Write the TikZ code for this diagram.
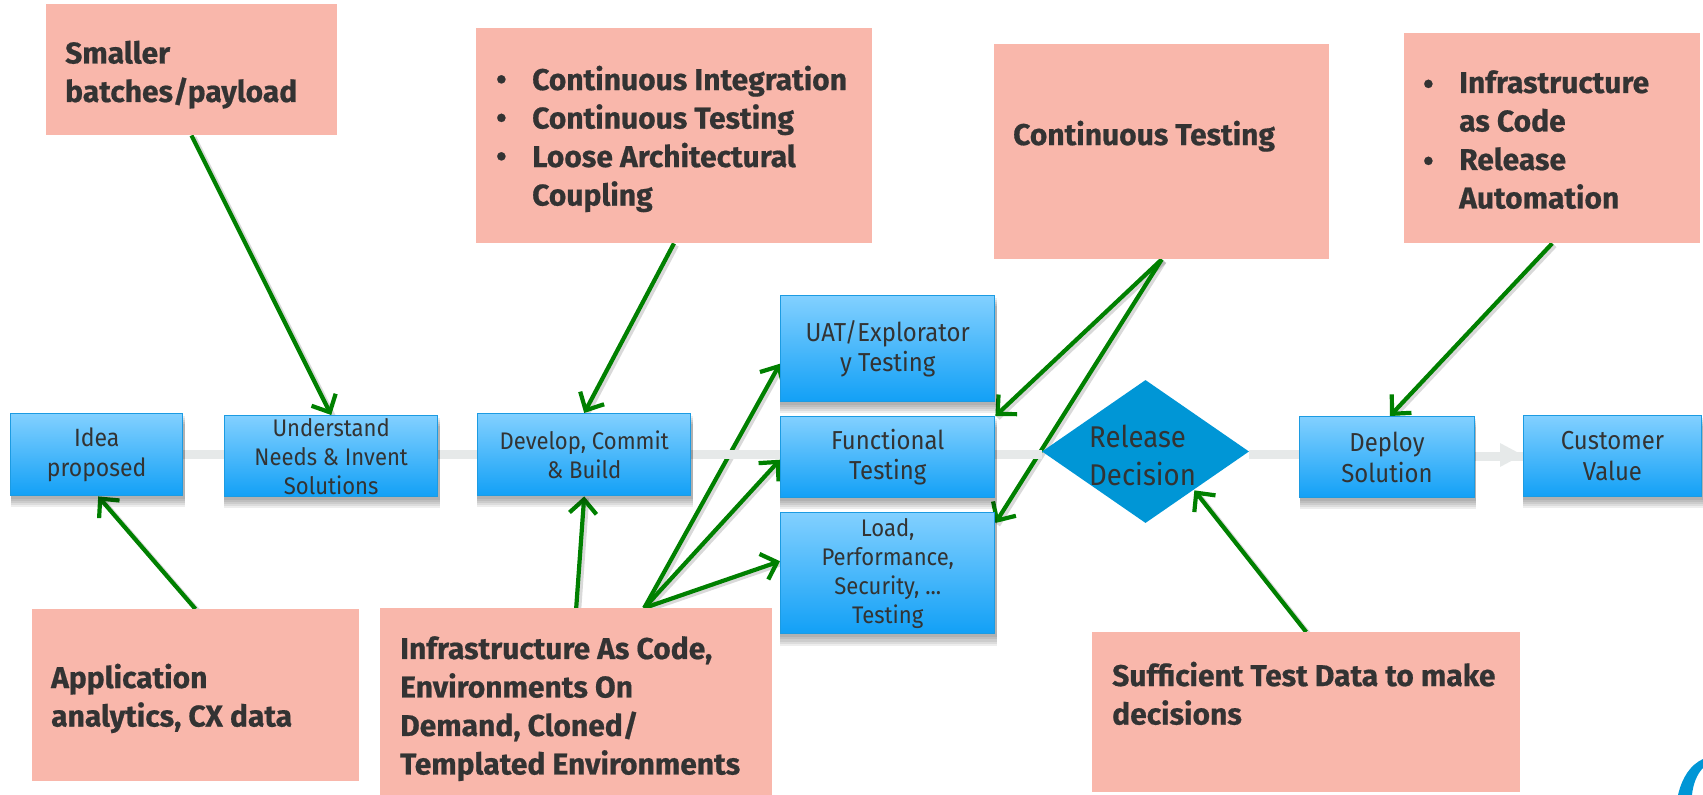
\documentclass[tikz,border=0pt]{standalone}
\usepackage{fontspec}
\setmainfont{Fira Sans}[FakeStretch=0.92,BoldFeatures={FakeStretch=1.0,FakeBold=0.6}]
\usetikzlibrary{arrows.meta,shadows,shapes.geometric,positioning,calc}
\pgfdeclarelayer{conn}\pgfdeclarelayer{band}
\pgfsetlayers{conn,band,main}
\definecolor{peach}{HTML}{F9B7AB}
\definecolor{boxtop}{HTML}{82D0FF}
\definecolor{boxbot}{HTML}{12A0F6}
\definecolor{boxline}{HTML}{1C9BE2}
\definecolor{dia}{HTML}{0096D6}
\definecolor{arrowgreen}{HTML}{008000}
\definecolor{ink}{HTML}{333333}
\definecolor{bandc}{HTML}{E6E9E9}
\newcommand{\fs}[2]{\fontsize{#1}{#2}\selectfont}
\tikzset{
 x=1pt,y=-1pt,
 softshadow/.style={shadow scale=1.012,shadow xshift=1pt,shadow yshift=-#1pt,opacity=.07,fill=black},
 stage/.style={draw=boxline,line width=1.4pt,top color=boxtop,bottom color=boxbot,inner sep=0pt,
  text=ink,align=center,font=\fs{24}{29},anchor=north west,
  drop shadow={softshadow=11},drop shadow={softshadow=9},drop shadow={softshadow=7},
  drop shadow={softshadow=5},drop shadow={softshadow=3}},
 bigstage/.style={font=\fs{26}{30.5}},
 note/.style={fill=peach,inner sep=0pt,anchor=north west,text=ink},
 notetext/.style={anchor=north west,inner sep=0pt,text=ink,align=left,font=\bfseries\fs{30}{38.5}},
 bullet/.style={anchor=north west,inner sep=0pt,text=ink,font=\bfseries\fs{30}{38.5}},
 link/.style={draw=arrowgreen,line width=4.2pt,-{Straight Barb[length=14pt,width=27pt,line width=4.2pt]},
  preaction={draw=black,draw opacity=.15,line width=5pt,-,transform canvas={xshift=2.5pt,yshift=-2pt}}},
 flow/.style={draw=bandc,line width=9pt},
}
\newcommand{\stagebox}[7][]{\node[stage,#1,minimum width=#5 pt-#3 pt,minimum height=#6 pt-#4 pt] (#2) at (#3,#4) {#7};}
\newcommand{\notebox}[5]{\node[note,minimum width=#4 pt-#2 pt,minimum height=#5 pt-#3 pt] (#1) at (#2,#3) {};}
\begin{document}
\begin{tikzpicture}
\useasboundingbox (0,0) rectangle (1703,795);
% notes
\notebox{nsmall}{46}{4}{336.5}{135}
\notebox{nci}{476}{28}{871.5}{243}
\notebox{nct}{994}{44}{1329}{259}
\notebox{niac}{1404}{33}{1700}{243}
\notebox{napp}{31.5}{609}{359}{781}
\notebox{ninfra}{380}{608}{772}{795}
\notebox{nsuff}{1092}{632}{1520}{792}
\node[notetext] (tsmall) at (65,40.5) {Smaller\\batches/payload};
\node[notetext] (tci) at (532,65.5) {Continuous Integration\\Continuous Testing\\Loose Architectural\\Coupling};
\node[bullet] (bci1) at (496,75) {•};
\node[bullet] (bci2) at (496,113.5) {•};
\node[bullet] (bci3) at (496,152) {•};
\node[notetext] (tct) at (1013,120.5) {Continuous Testing};
\node[notetext] (tiac) at (1459,70) {Infrastructure\\as Code\\Release\\Automation};
\node[bullet] (biac1) at (1423,79.5) {•};
\node[bullet] (biac2) at (1423,156.5) {•};
\node[notetext] (tapp) at (51,663.5) {Application\\analytics, CX data};
\node[notetext] (tinfra) at (400,636) {Infrastructure As Code,\\Environments On\\Demand, Cloned/\\Templated Environments};
\node[notetext] (tsuff) at (1112,661.5) {Sufficient Test Data to make\\decisions};
% stages
\stagebox[font=\fs{25}{30.5}]{idea}{10}{413}{182}{495}{Idea\\proposed}
\stagebox{need}{224}{415}{437}{496}{Understand\\Needs \& Invent\\Solutions}
\stagebox{dev}{477}{413}{690}{495}{Develop, Commit\\\& Build}
\stagebox[bigstage]{uat}{780}{295}{994}{401}{UAT/Explorator\\y Testing}
\stagebox[bigstage]{func}{780}{416}{994}{497}{Functional\\Testing}
\stagebox{load}{780}{512}{994}{633}{Load,\\Performance,\\Security, ...\\Testing}
\stagebox[bigstage]{deploy}{1299}{416}{1473.5}{497}{Deploy\\Solution}
\stagebox[bigstage]{cust}{1522.5}{415}{1701}{496}{Customer\\Value}
\node[diamond,fill=dia,inner sep=0pt,minimum width=207pt,minimum height=143pt,aspect=1.45] (rel) at (1145.5,451.5) {};
\node[anchor=west,inner sep=0pt,text=ink,align=left,font=\fs{30}{38}] (reltext) at (1089,455.5) {Release\\Decision};
% backbone band (over the green lines, under the boxes)
\begin{pgfonlayer}{band}
\draw[flow] (idea.east |- 0,454) -- (need.west |- 0,454);
\draw[flow] (need.east |- 0,454) -- (dev.west |- 0,454);
\draw[flow] (dev.east |- 0,454) -- (func.west |- 0,454);
\draw[flow] (func.east |- 0,454) -- (rel.west |- 0,454);
\draw[flow] (rel.east |- 0,454) -- (deploy.west |- 0,454);
\draw[flow] (deploy.east |- 0,456) -- (cust.west |- 0,456);
\fill[bandc] (1500,443) -- (cust.west |- 0,455) -- (1500,467) -- cycle;
\end{pgfonlayer}
% connectors
\coordinate (sinf) at ([xshift=68pt]ninfra.north);
\coordinate (reltip) at ($(rel.south)!0.5!(rel.east)+(-3,3)$);
\begin{pgfonlayer}{conn}
\draw[link] (nsmall.south) -- (need.north);
\draw[link] (nci.south) -- (dev.north);
\draw[link] (nct.south) -- (func.north east);
\draw[link] (nct.south) -- ([yshift=-11pt]load.north east);
\draw[link] (niac.south) -- ([xshift=3pt]deploy.north);
\draw[link] (napp.north) -- ([xshift=1.5pt]idea.south);
\draw[link] (ninfra.north) -- (dev.south);
\draw[link] (sinf) -- ([yshift=-15pt]uat.west);
\draw[link] (sinf) -- ([yshift=-2.5pt]func.west);
\draw[link] (sinf) -- ([yshift=12pt]load.west);
\draw[link] (nsuff.north) -- (reltip);
\end{pgfonlayer}
% logo fragment
\fill[dia] (1703,759) .. controls (1690,765) and (1682,778) .. (1678,795) -- (1692,795) .. controls (1693,784) and (1697,774) .. (1703,768) -- cycle;
\end{tikzpicture}
\end{document}
